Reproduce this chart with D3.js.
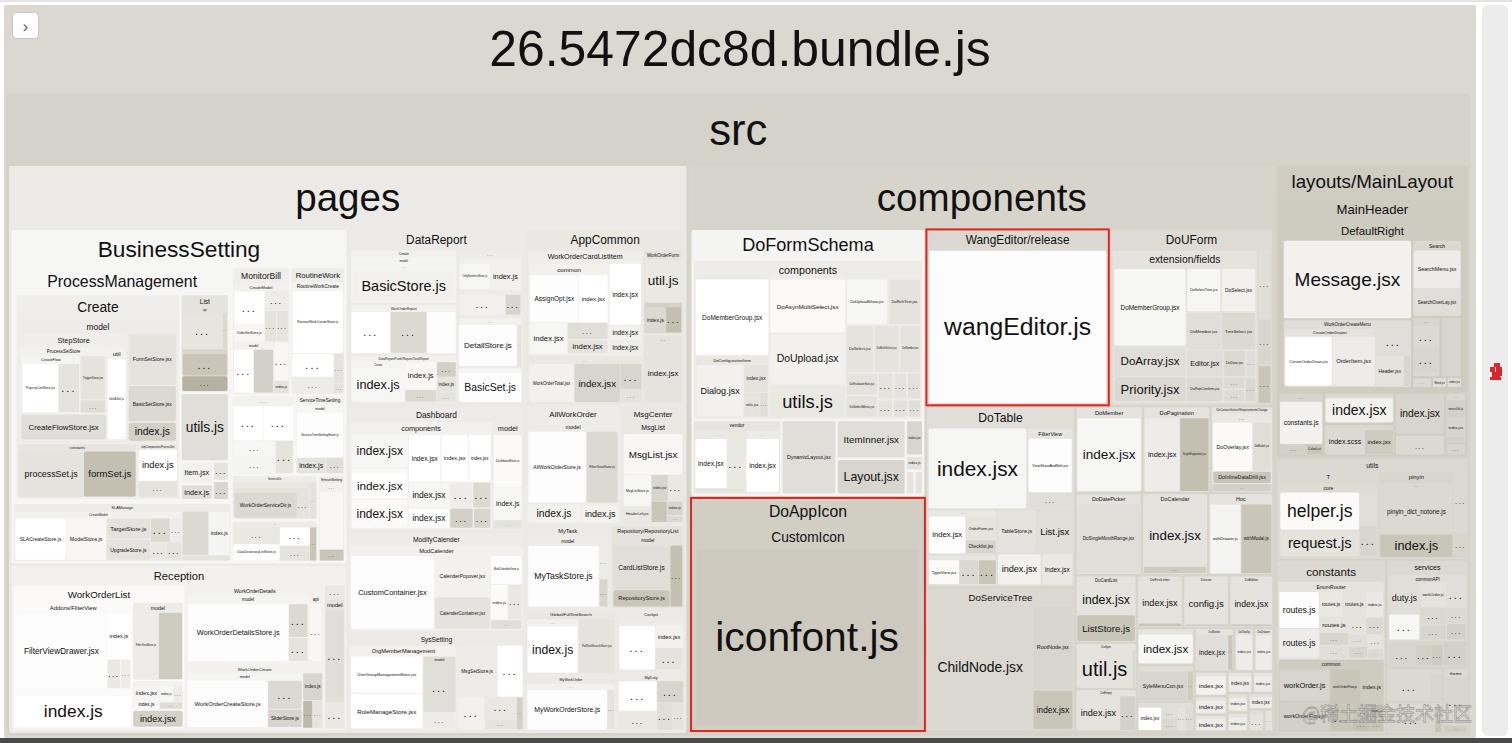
<!DOCTYPE html>
<html><head><meta charset="utf-8">
<script src="https://cdn.jsdelivr.net/npm/d3@7"></script>
<style>
html,body{margin:0;padding:0;background:#fff;overflow:hidden;}
svg{display:block;}
</style></head><body>
<svg id="chart" width="1512" height="743"></svg>
<script>
// Node format: [name, size (relative area), gzipRatio, children?]
const businessSetting = [
  ["ProcessManagement", 500, 0.1, [
    ["Create", 327, 0.18, [
      ["model", 196, 0.2, [
        ["StepStore", 112, 0.18, [
          ["ProcessSetStore", 62, 0.15, [
            ["CreateFlow", 30, 0.12, [["PropertyConfStore.jsx", 17, 0], ["...", 10, 0.3]]],
            ["TriggerStore.jsx", 10, 0.3],
            ["...", 3, 0.35]]],
          ["CreateFlowStore.jsx", 24, 0.35],
          ["util", 20, 0.15, [["fieldUtil.js", 16, 0]]]]],
        ["FormSetStore.jsx", 24, 0.3],
        ["BasicSetStore.jsx", 17, 0.4],
        ["index.js", 9, 0.5]]],
      ["constants", 64, 0.28, [["processSet.js", 31, 0.3], ["formSet.js", 25, 0.65]]],
      ["stepComponents/ProcessSet", 22, 0.25, [["index.js", 12, 0], ["...", 6, 0.3]]]]],
    ["List", 46, 0.3, [
      ["api", 22, 0.3, [["...", 18, 0.28], ["...", 2, 0.4]]],
      ["model", 14, 0.45, [["...", 12, 0.6]]],
      ["...", 8, 0.78]]],
    ["utils.js", 32, 0.35],
    ["...", 3, 0.3],
    ["index.js", 5, 0.35],
    ["Item.jsx", 7, 0.15],
    ["...", 3, 0.45]]],
  ["SLAManage", 126, 0.2, [
    ["CreateModel", 79, 0.15, [
      ["SLACreateStore.js", 23, 0], ["ModelStore.js", 18, 0.08],
      ["TargetStore.js", 10, 0.3], ["UpgradeStore.js", 10, 0.3],
      ["...", 3, 0.2], ["...", 3, 0.25], ["...", 3, 0.3], ["...", 5, 0.4]]],
    ["SLAManageStore.js", 11, 0.4], ["index.js", 9, 0.12], ["...", 2.4, 0.3]]],
  ["RoutineWork", 68, 0.2, [
    ["RoutineWorkCreate", 38, 0.12, [["RoutineWorkCreateStore.js", 28, 0]]],
    ["...", 10, 0], ["...", 7, 0.2], ["...", 3, 0.3], ["...", 1, 0.3]]],
  ["MonitorBill", 73, 0.18, [
    ["CreateModel", 35, 0.15, [["...", 11, 0], ["OrderSetStore.js", 6, 0.08], ["...", 5, 0.2], ["...", 4, 0.3], ["...", 4, 0.3]]],
    ["model", 22, 0.15, [["...", 9, 0], ["MonitorBillStore.js", 9, 0.5]]],
    ["...", 6, 0.08], ["index.js", 2, 0.3]]],
  ["...", 49, 0.15, [["...", 9, 0], ["...", 9, 0], ["...", 6, 0.1], ["...", 6, 0.12], ["...", 5, 0.3]]],
  ["ServiceDir", 38, 0.2, [["Normal", 32, 0.25, [["model", 28, 0.3, [["WorkOrderServiceDir.js", 22, 0.4], ["...", 4, 0.3]]]]], ["...", 3, 0.3]]],
  ["ServiceTimeSetting", 39, 0.15, [["model", 27, 0.1, [["ServiceTimeSettingStore.js", 20, 0.03]]], ["index.js", 5, 0.3], ["...", 3, 0.35]]],
  ["EntrustSetting", 23, 0.2, [["...", 18, 0.15, [["EntrustSettingStore.js", 15, 0.08]]], ["...", 3, 0.6]]],
  ["...", 35, 0.2, [["...", 5, 0], ["...", 7, 0.25], ["DataDictionaryListStore.js", 7, 0], ["...", 2, 0.6], ["...", 4, 0.3]]]
];

const reception = [
  ["WorkOrderList", 242, 0.05, [
    ["Addons/FilterView", 103, 0.05, [["FilterViewDrawer.jsx", 69, 0.03], ["index.js", 11, 0], ["...", 4, 0.25], ["...", 3, 0.2]]],
    ["...", 44, 0.05, [["index.js", 36, 0]]],
    ["model", 40, 0.2, [["FilterViewStore.js", 18, 0.2], ["WorkOrderListStore.js", 17, 0.55]]],
    ["index.jsx", 9, 0.5],
    ["...", 15, 0.15, [["index.jsx", 5, 0.12], ["index.js", 3, 0.08], ["index.js", 3, 0.1], ["...", 2, 0.2], ["...", 2, 0.35]]]]],
  ["WorkOrderDetails", 106, 0.15, [
    ["model", 70, 0.12, [["WorkOrderDetailsStore.js", 63, 0.02], ["...", 7, 0.4], ["...", 5, 0.3]]],
    ["api", 8, 0.15, [["...", 7, 0.08]]]]],
  ["WorkOrderCreate", 88, 0.15, [
    ["model", 70, 0.12, [["WorkOrderCreateStore.js", 42, 0.02], ["...", 11, 0.4], ["SliderStore.js", 7, 0.45]]],
    ["index.js", 6, 0.45], ["...", 3, 0.7], ["...", 3, 0.3]]],
  ["...", 30, 0.25, [["model", 24, 0.3, [["...", 21, 0.35]]], ["...", 6, 0.25]]]
];

const dataReport = [
  ["Create", 57, 0.15, [["model", 46, 0.12, [["...", 42, 0.12, [["BasicStore.js", 38, 0.15]]]]]]],
  ["...", 23, 0.1, [["BasicSet.js", 21, 0.02]]],
  ["WorkOrderReport", 53, 0.15, [["...", 16, 0], ["OrderCrowdStatisticsStore.jsx", 12, 0.02], ["...", 15, 0.4]]],
  ["DataReportPush/Report/TaskReport", 51, 0.15, [["Create", 22, 0.12, [["index.js", 20, 0.1]]], ["...", 4, 0.4], ["...", 3, 0.5], ["index.js", 9, 0.08], ["...", 2, 0.3], ["index.js", 3, 0.3]]],
  ["...", 32, 0.15, [["DetailStore.js", 26, 0.02], ["...", 2, 0.3]]],
  ["...", 43, 0.2, [["...", 18, 0.2, [["...", 12, 0.15], ["...", 4, 0.45]]], ["...", 22, 0.15, [["OnlyStatisticsStore.js", 10, 0.1], ["index.js", 10, 0.15]]]]]
];

const appCommon = [
  ["WorkOrderCardListItem", 121, 0.18, [
    ["common", 70, 0.15, [["AssignOpt.jsx", 20, 0.02], ["index.jsx", 5, 0.3], ["...", 6, 0.35], ["index.jsx", 12, 0], ["index.jsx", 10, 0.1]]],
    ["index.jsx", 19, 0],
    ["index.jsx", 4.6, 0.15],
    ["index.jsx", 4.6, 0.2]]],
  ["...", 53, 0.25, [["WorkOrderTotal.jsx", 19, 0.15], ["...", 6, 0.45], ["index.jsx", 19, 0.45], ["...", 3, 0.3]]],
  ["WorkOrderForm", 33, 0.3, [["util.js", 17, 0.25], ["index.js", 12, 0.5, [["index.js", 7, 0.4], ["...", 5, 0.65]]]]],
  ["...", 27, 0.3, [["index.jsx", 24, 0.3]]]
];

const dashboard = [
  ["components", 158, 0.15, [
    ["QuickCreate", 15, 0.05, [["index.jsx", 13, 0]]],
    ["index.jsx", 9, 0], ["...", 4, 0.4], ["index.jsx", 13, 0],
    ["index.jsx", 16, 0.1], ["...", 4, 0.5], ["index.jsx", 11, 0], ["index.jsx", 7, 0],
    ["...", 3, 0.45], ["index.jsx", 14, 0.05], ["index.jsx", 9, 0.1], ["...", 5, 0.2]]],
  ["model", 34, 0.2, [["DashboardStore.js", 18, 0.05], ["index.js", 11, 0.1], ["...", 3, 0.3]]]
];

const modifyCalender = [
  ["ModCalender", 150, 0.15, [
    ["CustomContainer.jsx", 61, 0.02], ["CalenderPopover.jsx", 23, 0.15], ["CalenderContainer.jsx", 18, 0.3],
    ["ModCalendarStore.js", 9, 0.02], ["index.js", 6, 0.05], ["...", 5, 0.25], ["...", 3, 0.35]]]
];

const sysSetting = [
  ["OrgMemberManagement", 80, 0.15, [["UserGroupManagementStore.jsx", 20, 0], ["RoleManageStore.jsx", 19, 0], ["...", 4, 0.2], ["model", 14, 0.35, [["...", 12, 0.35]]]]],
  ["...", 12, 0], ["...", 6, 0.25], ["MsgSetStore.js", 18, 0.2], ["...", 8, 0.15], ["...", 2, 0.5], ["...", 3, 0.3]
];

const pagesGroups = [
  ["BusinessSetting", 1112, 0.1, businessSetting],
  ["Reception", 553, 0.15, reception],
  ["DataReport", 308, 0.22, dataReport],
  ["AppCommon", 278, 0.25, appCommon],
  ["Dashboard", 219, 0.2, dashboard],
  ["ModifyCalender", 175, 0.2, modifyCalender],
  ["SysSetting", 173, 0.22, sysSetting],
  ["AllWorkOrder", 112, 0.2, [["model", 75, 0.2, [["AllWorkOrderStore.js", 42, 0.02], ["FilterViewStore.js", 23, 0.4]]], ["index.js", 10, 0.15], ["index.js", 7, 0.15]]],
  ["MsgCenter", 75, 0.25, [["MsgList", 65, 0.25, [["MsgList.jsx", 22, 0.08], ["MsgListStore.js", 8, 0.1], ["HeaderLeft.jsx", 4, 0.25], ["HeaderRight.jsx", 3, 0.6], ["index.jsx", 4, 0.45], ["...", 3.5, 0.25], ["index.js", 2, 0.45], ["...", 1, 0.4]]]]],
  ["MyTask", 71, 0.22, [["model", 60, 0.2, [["MyTaskStore.js", 45, 0.02], ["...", 3, 0.2], ["...", 2.5, 0.45]]]]],
  ["Repository/RepositoryList", 62, 0.3, [["model", 52, 0.3, [["CardListStore.js", 26, 0.35], ["RepositoryStore.js", 10, 0.6], ["...", 8, 0.65]]]]],
  ["Global/FullTextSearch", 59, 0.25, [["...", 24, 0.15, [["index.js", 19, 0]]], ["FullTextSearchStore.jsx", 17, 0.3]]],
  ["MyWorkOrder", 51, 0.22, [["...", 42, 0.15, [["MyWorkOrderStore.js", 32, 0.02], ["...", 3, 0.3]]]]],
  ["Cockpit", 42, 0.22, [["...", 30, 0.2, [["...", 13, 0], ["index.jsx", 5, 0.15], ["...", 5, 0.3]]]]],
  ["MyDuty", 40, 0.22, [["...", 8, 0], ["...", 2, 0.3], ["...", 5, 0.25], ["...", 3, 0.35], ["...", 4, 0.45]]]
];

const doFormSchema = [
  ["components", 358, 0.2, [
    ["DoMemberGroup.jsx", 56, 0], ["DoAsynMultiSelect.jsx", 41, 0.05], ["DoUpload.jsx", 38, 0.15], ["utils.js", 25, 0.25],
    ["DoUploadShow.jsx", 19, 0.1], ["DoRichText.jsx", 15, 0.3], ["DoSelect.jsx", 13, 0.3], ["DoMultiSelect.jsx", 12, 0.3],
    ["DoNumber.jsx", 10, 0.3], ["DoEvaluateStar.jsx", 7, 0.3], ["DoSelectMenu.jsx", 7, 0.3],
    ["...", 3.6, 0.3], ["...", 3.6, 0.32], ["...", 2.7, 0.3], ["...", 2.7, 0.32], ["...", 4, 0.3], ["...", 2.3, 0.35],
    ["DoConfigurationItem", 45, 0.25, [["Dialog.jsx", 26, 0.15], ["index.jsx", 7, 0.3], ["utils.jsx", 4, 0.3], ["...", 2, 0.35]]]]],
  ["vendor", 64, 0.28, [["...", 30, 0.25, [["index.jsx", 16, 0], ["...", 9, 0.25], ["index.less", 2, 0.3]]], ["...", 20, 0.2, [["index.jsx", 16, 0]]]]],
  ["DynamicLayout.jsx", 40, 0.35], ["ItemInner.jsx", 26, 0.35], ["Layout.jsx", 24, 0.45],
  ["index.jsx", 6, 0.45], ["index.js", 2.5, 0.3], ["index.js", 2, 0.3], ["comnbine.js", 2, 0.3]
];

const doUForm = [
  ["extension/fields", 217, 0.3, [
    ["DoMemberGroup.jsx", 52, 0.1], ["DoArray.jsx", 20, 0.35], ["Priority.jsx", 17, 0.4],
    ["DoSelectTree.jsx", 14, 0.1], ["DoSelect.jsx", 14, 0.15], ["DoMember.jsx", 12, 0.35], ["TreeSelect.jsx", 12, 0.4],
    ["Editor.jsx", 9, 0.35], ["DoPopConfirm.jsx", 8.5, 0.4], ["DoDate.jsx", 5.5, 0.4],
    ["...", 2.5, 0.35], ["...", 2.5, 0.4], ["...", 2.5, 0.38], ["...", 2.5, 0.42]]],
  ["...", 9, 0.35], ["...", 6, 0.45], ["...", 5, 0.6]
];

const doTable = [
  ["index.jsx", 80, 0.1],
  ["FilterView", 37, 0.28, [["ViewShowAndEdit.jsx", 24, 0.02], ["...", 7, 0.35]]],
  ["...", 31, 0.25, [["index.jsx", 15, 0.02], ["OrderForm.jsx", 8, 0.3], ["Checklist.jsx", 4.5, 0.45]]],
  ["...", 21, 0.28, [["TypeView.jsx", 7, 0.05], ["...", 4.5, 0.4], ["...", 4, 0.6]]],
  ["TableStore.js", 17, 0.3], ["List.jsx", 16, 0.35], ["index.jsx", 14, 0.15], ["index.jsx", 10, 0.25]
];

const componentsSmall = [
  ["DoMember", 58, 0.3, [["index.jsx", 45, 0.1]]],
  ["DoPagination", 58, 0.3, [["index.jsx", 23, 0.2], ["SinglePagination.jsx", 19, 0.65]]],
  ["DoContactSelect/RequirementsChange", 54, 0.3, [["...", 38, 0.25, [["DoOverlay.jsx", 17, 0.05], ["DoModal.jsx", 8, 0.35], ["DoInlineDataDrill.jsx", 6, 0.6]]], ["...", 4, 0.5]]],
  ["DoDatePicker", 54, 0.3, [["DoSingleMonthRange.jsx", 39, 0.35]]],
  ["DoCalendar", 54, 0.3, [["index.jsx", 34, 0.3], ["...", 4, 0.55]]],
  ["Hoc", 53, 0.3, [["withDrawer.js", 19, 0.12], ["withModal.js", 19, 0.6]]],
  ["DoCardList", 41, 0.3, [["index.jsx", 16, 0.3], ["ListStore.js", 14, 0.6]]],
  ["DoSpin", 28, 0.3, [["util.js", 18, 0.3], ["...", 1, 0.4]]],
  ["DoEmpty", 26, 0.3, [["index.jsx", 14, 0.3], ["...", 5, 0.5]]],
  ["DoFirstLetter", 24, 0.3, [["index.jsx", 15, 0.3], ["...", 1.2, 0.6]]],
  ["Doicon", 24, 0.3, [["config.js", 16, 0.3], ["...", 1, 0.5]]],
  ["DoEditor", 23, 0.3, [["index.jsx", 16, 0.3], ["...", 1, 0.55]]],
  ["DoSlider", 21, 0.3, [["index.jsx", 15, 0.1]]],
  ["DoMenuDrawer", 21, 0.35, [["SyleMenuCon.jsx", 14, 0.45], ["...", 1.5, 0.55]]],
  ["chart", 17, 0.35, [["index.jsx", 4.4, 0], ["...", 1.5, 0.35], ["...", 1.5, 0.4], ["...", 1.5, 0.3], ["...", 1.5, 0.38]]],
  ["DoButton", 17, 0.3, [["index.jsx", 10, 0.35], ["...", 1.5, 0.6]]],
  ["DoTooltip", 8.5, 0.3, [["index.jsx", 6, 0.2]]],
  ["DoDrawer", 8.3, 0.3, [["index.jsx", 6, 0.2]]],
  ["DoTags", 8, 0.3, [["index.jsx", 6, 0.15]]],
  ["DoTimePicker", 6, 0.3, [["index.jsx", 4.5, 0.2]]],
  ["DoPopover", 5.5, 0.3, [["index.jsx", 4, 0.2]]],
  ["Box", 5.5, 0.3, [["index.jsx", 4, 0.2]]],
  ["...", 4.5, 0.3, [["index.jsx", 3, 0.2]]],
  ["DoInput", 4, 0.3, [["index.jsx", 3, 0.2]]],
  ["DoSwitch", 4, 0.3, [["index.jsx", 3, 0.2]]],
  ["...", 4, 0.3, [["index.jsx", 3, 0.2]]],
  ["...", 3.5, 0.35, [["...", 2.5, 0.3]]],
  ["...", 2, 0.3]
];

const componentsGroups = [
  ["DoFormSchema", 624, 0.12, doFormSchema],
  ["DoAppIcon", 545, 0.52, [["CustomIcon", 470, 0.52, [["iconfont.js", 402, 0.56], ["...", 3, 0.5]]]]],
  ["WangEditor/release", 322, 0.42, [["wangEditor.js", 272, 0.03]]],
  ["DoUForm", 287, 0.38, doUForm],
  ["DoTable", 268, 0.35, doTable],
  ["DoServiceTree", 213, 0.4, [["ChildNode.jsx", 129, 0.42], ["RootNode.jsx", 34, 0.45], ["index.jsx", 16, 0.6]]]
].concat(componentsSmall);

const mainLayout = [
  ["MainHeader", 344, 0.55, [
    ["DefaultRight", 300, 0.55, [
      ["Message.jsx", 96, 0.15],
      ["WorkOrderCreateMenu", 83, 0.35, [
        ["CreateOrderDrawer", 50, 0.3, [["CreateOrderDraw.jsx", 22, 0], ["OrderItem.jsx", 20, 0.2]]],
        ["Header.jsx", 8, 0.3], ["utils.js", 2, 0.45], ["...", 9, 0.35]]],
      ["Search", 36, 0.42, [["SearchMenu.jsx", 17, 0.2], ["SearchOverLay.jsx", 12, 0.35]]],
      ["Searchcover.jsx", 12, 0.45], ["...", 2, 0.4], ["Shed.jsx", 1.5, 0.35], ["index.jsx", 1.5, 0.35],
      ["...", 16, 0.45, [["...", 6, 0.4], ["...", 6, 0.45], ["...", 1, 0.4]]]]]]],
  ["...", 27, 0.45, [["constants.js", 17, 0.15], ["...", 2.5, 0.5], ["ColorList", 1.5, 0.6]]],
  ["index.jsx", 20, 0.45],
  ["...", 2.5, 0.45],
  ["MainContent", 21, 0.4, [["index.jsx", 17, 0.15]]],
  ["MenuLeft", 21, 0.4, [["index.scss", 9, 0.4], ["index.jsx", 6.5, 0.55]]],
  ["constants", 10, 0.4, [["...", 8, 0.4]]],
  ["...", 10, 0.4, [["menuUtil.js", 3.6, 0.5], ["index.jsx", 3.5, 0.45], ["...", 1, 0.5]]]
];

const srcMisc = [
  ["utils", 195, 0.42, [
    ["T", 78, 0.4, [["core", 70, 0.38, [["helper.js", 29, 0.05], ["request.js", 20, 0.3], ["checkType.js", 5.5, 0.35], ["...", 5, 0.45]]]]],
    ["pinyin", 58, 0.45, [["...", 36, 0.42, [["pinyin_dict_notone.js", 34, 0.4]]], ["index.js", 16, 0.6]]],
    ["...", 7, 0.4], ["...", 3, 0.45]]],
  ["constants", 190, 0.4, [
    ["EnumRouter", 76, 0.3, [["routes.js", 10, 0.02], ["...", 2.5, 0.45], ["routes.js", 8, 0.2], ["routes.js", 4, 0.25], ["routes.js", 4, 0.3], ["index.js", 3, 0.25], ["routes.js", 3, 0.3], ["...", 2.5, 0.35], ["...", 2, 0.3], ["...", 2, 0.4], ["...", 1.5, 0.35], ["...", 1.5, 0.45], ["...", 1.5, 0.3], ["...", 1, 0.4]]],
    ["common", 71, 0.55, [["workOrder.js", 14, 0.45], ["workOrderFlow.js", 13, 0.5], ["workOrderFlow.js", 9, 0.6], ["index.js", 7, 0.55], ["...", 5, 0.6], ["...", 2, 0.6], ["...", 2, 0.65], ["user.js", 1.5, 0.7], ["...", 1.5, 0.62]]]]],
  ["services", 88, 0.4, [
    ["commonAPI", 52, 0.35, [["...", 5, 0.1], ["workOrder.js", 4, 0.3], ["duty.js", 6, 0.35], ["...", 3, 0.35], ["...", 3, 0.4], ["...", 2.5, 0.45], ["...", 2, 0.4], ["...", 2, 0.5]]],
    ["Permission", 14, 0.45, [["...", 5, 0.45], ["...", 3, 0.5], ["...", 2, 0.55]]],
    ["...", 6, 0.5]]],
  ["store", 19, 0.4, [["...", 12, 0.4], ["Main.jsx", 3, 0.45]]],
  ["router", 18, 0.4, [["...", 11, 0.45], ["index.js", 1.5, 0.6]]],
  ["theme", 17, 0.4, [["...", 10, 0.45], ["...", 1.5, 0.55]]]
];

const srcGroups = [
  ["pages", 3834, 0.22, pagesGroups],
  ["components", 3317, 0.46, componentsGroups],
  ["layouts/MainLayout", 560, 0.54, mainLayout]
].concat(srcMisc);

const bundle = ["26.5472dc8d.bundle.js", 1, 0.42, [["src", 1, 0.48, srcGroups]]];
const highlighted = ["WangEditor/release", "DoAppIcon"];

// ---------- rendering ----------
const FONT = "'Liberation Sans', Arial, Helvetica, sans-serif";
const ctx = document.createElement("canvas").getContext("2d");
ctx.font = "100px " + FONT;
const em = t => Math.max(0.01, ctx.measureText(t).width / 100);

const color = d3.scaleLinear().domain([0, 0.5, 1]).range(["#ffffff", "#d3d0c7", "#9f9982"]);

function toNode(a) {
  const n = {name: a[0], size: a[1], gz: a[2]};
  if (a[3]) n.children = a[3].map(toNode);
  return n;
}
const root = d3.hierarchy(toNode(bundle));
root.value = 1;
root.eachBefore(n => {
  if (n.children) {
    const s = d3.sum(n.children, c => c.data.size);
    n.children.forEach(c => { c.value = n.value * c.data.size / s; });
  }
});
root.sort((a, b) => b.value - a.value);

function pad(n) {
  const m = Math.min(n.x1 - n.x0, n.y1 - n.y0);
  return Math.max(0.5, Math.min(2.5, m * 0.012));
}
function groupFont(n) {
  const w = n.x1 - n.x0, h = n.y1 - n.y0, name = n.data.name;
  let f = Math.min(0.068 * h, 0.85 * w / em(name));
  if (name === "...") f = Math.min(f, 8);
  return f;
}
// squarify aspect target per depth of the parent being tiled
const tileRatio = [1, 1, 1.25, 1.5];
const tile = (node, x0, y0, x1, y1) =>
  d3.treemapSquarify.ratio(tileRatio[Math.min(node.depth, tileRatio.length - 1)])(node, x0, y0, x1, y1);

d3.treemap()
  .tile(tile)
  .size([1472, 733])
  .paddingTop(n => {
    const f = groupFont(n);
    n.fs = f;
    n.hdr = Math.min(f * (n.depth === 0 ? 1.75 : 1.62) + 1.5, (n.y1 - n.y0) * 0.45);
    return n.hdr;
  })
  .paddingInner(pad).paddingLeft(pad).paddingBottom(pad)
  .paddingRight(n => n.depth === 0 ? 6 : pad(n))
  (root);

const svg = d3.select("#chart");
svg.append("rect").attr("x", 0).attr("y", 0).attr("width", 1512).attr("height", 2).attr("fill", "#e4e4e4");

const g = svg.append("g").attr("transform", "translate(4,5)");
const nodes = root.descendants();

g.selectAll("rect.cell").data(nodes).join("rect")
  .attr("class", "cell")
  .attr("x", d => d.x0).attr("y", d => d.y0)
  .attr("width", d => Math.max(0, d.x1 - d.x0))
  .attr("height", d => Math.max(0, d.y1 - d.y0))
  .attr("rx", d => Math.min(2, (d.x1 - d.x0) * 0.04))
  .attr("fill", d => color(d.data.gz));

const labelData = nodes.map(d => {
  const w = d.x1 - d.x0, h = d.y1 - d.y0, name = d.data.name;
  if (d.children) {
    return {name, x: (d.x0 + d.x1) / 2, y: d.y0 + d.hdr / 2, fs: d.fs};
  }
  let fs;
  if (name === "...") fs = Math.min(11, 0.5 * h, 0.55 * w / em(name));
  else fs = Math.min(0.83 * w / em(name), 0.58 * h);
  return {name, x: (d.x0 + d.x1) / 2, y: (d.y0 + d.y1) / 2, fs};
}).filter(l => l.fs >= 2.5);

g.selectAll("text.lbl").data(labelData).join("text")
  .attr("class", "lbl")
  .attr("x", d => d.x).attr("y", d => d.y)
  .attr("text-anchor", "middle")
  .attr("dominant-baseline", "central")
  .attr("font-family", FONT)
  .attr("font-size", d => d.fs)
  .attr("letter-spacing", d => d.name === "..." ? d.fs * 0.18 : null)
  .attr("fill", "#111")
  .text(d => d.name);

// highlight boxes
g.selectAll("rect.hl").data(nodes.filter(d => highlighted.includes(d.data.name) && d.depth === 3))
  .join("rect").attr("class", "hl")
  .attr("x", d => d.x0 - 0.5).attr("y", d => d.y0 - 0.5)
  .attr("width", d => d.x1 - d.x0 + 1).attr("height", d => d.y1 - d.y0 + 1)
  .attr("fill", "none").attr("stroke", "#e3231c").attr("stroke-width", 2);

// side panel and decorations
svg.append("rect").attr("x", 1482).attr("y", 5).attr("width", 26).attr("height", 731).attr("rx", 6).attr("fill", "#ececec");
const icon = svg.append("g").attr("transform", "translate(1490,363)");
[[4,0,6,4],[0,4,5,5],[6,4,6,5],[2,9,8,5],[9,9,3,4],[0,14,11,3]].forEach(r =>
  icon.append("rect").attr("x", r[0]).attr("y", r[1]).attr("width", r[2]).attr("height", r[3]).attr("fill", "#d9262c"));
svg.append("rect").attr("x", 0).attr("y", 738).attr("width", 1512).attr("height", 5).attr("fill", "#4a4a4a");

svg.append("rect").attr("x", 12.5).attr("y", 12.5).attr("width", 26).attr("height", 26).attr("rx", 4)
  .attr("fill", "#fff").attr("stroke", "#c6c6c6");
svg.append("text").attr("x", 25.5).attr("y", 26).attr("text-anchor", "middle").attr("dominant-baseline", "central")
  .attr("font-family", FONT).attr("font-size", 16).attr("fill", "#555").text("›");

svg.append("text").attr("x", 1302).attr("y", 712).attr("dominant-baseline", "central")
  .attr("font-family", "'Noto Sans CJK SC', sans-serif").attr("font-size", 19)
  .attr("fill", "rgba(255,255,255,0.55)").attr("stroke", "rgba(100,100,100,0.55)").attr("stroke-width", 0.8)
  .text("@稀土掘金技术社区");
</script></body></html>
